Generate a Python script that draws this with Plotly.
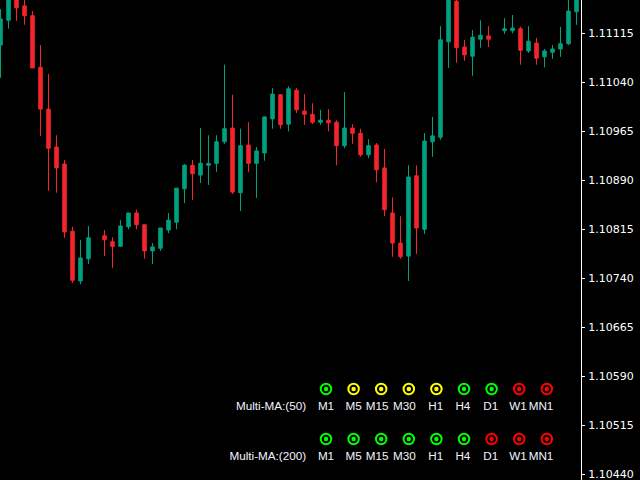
import plotly.graph_objects as go

# Candle slots (gaps at 12 and 62), prices in 1e-5 units
slots = [i for i in range(73) if i not in (12, 62)]
open_pts = [111097,111135,111178,111157,111142,111063,110999,110941,110915,110812,110736,110770,
 110805,110796,110789,110819,110840,110822,110782,110786,110814,110826,110877,110913,110898,110913,110916,110949,
 110970,110871,110944,110916,110932,110984,111021,110976,111028,110996,110991,110979,110982,110979,110943,110970,
 110962,110929,110944,110909,110840,110794,110774,110897,110815,110949,110956,111102,111164,111094,111080,111106,
 111111,111119,111119,111122,111088,111100,111079,111086,111091,111099,111148]
high_pts = [111152,111189,111184,111171,111149,111097,111053,110959,110921,110819,110799,110820,
 110814,110803,110829,110840,110845,110822,110794,110817,110840,110878,110915,110921,110970,110959,110959,111067,
 111021,110969,110979,110941,110988,111031,111022,111034,111031,111022,111008,110998,110999,110982,111025,110976,
 110969,110953,110947,110938,110864,110835,110913,110913,110962,110987,111126,111189,111171,111105,111120,111135,
 111126,111138,111143,111125,111126,111108,111091,111097,111125,111169,111189]
low_pts = [111047,111122,111134,111128,111062,110958,110874,110871,110802,110733,110731,110762,
 110774,110756,110789,110815,110815,110770,110762,110782,110809,110815,110855,110860,110886,110883,110903,110946,
 110869,110843,110903,110863,110920,110969,110969,110965,110993,110975,110976,110975,110965,110913,110939,110946,
 110926,110924,110887,110835,110773,110770,110736,110777,110808,110926,110952,111062,111070,111073,111050,111093,
 111094,111114,111115,111067,111085,111067,111063,111076,111079,111097,111128]
close_pts = [111137,111174,111154,111142,111062,110999,110939,110909,110811,110737,110771,110802,
 110799,110789,110820,110840,110822,110782,110788,110817,110829,110878,110913,110900,110916,110916,110949,110969,
 110872,110943,110916,110935,110987,111022,110975,111030,110998,110991,110979,110982,110978,110943,110970,110962,
 110929,110943,110906,110845,110794,110773,110895,110817,110950,110958,111105,111174,111093,111082,111109,111112,
 111106,111122,111123,111089,111103,111077,111088,111091,111099,111149,111174]

tick_labels = ["1.11115","1.11040","1.10965","1.10890","1.10815","1.10740","1.10665","1.10590","1.10515","1.10440"]

timeframes = ["M1","M5","M15","M30","H1","H4","D1","W1","MN1"]
label_cols = [0, 1, 1.85, 2.84, 3.98, 4.96, 5.97, 6.96, 7.79]
panel_rows = ["Multi-MA:(50)","Multi-MA:(200)"]
status_50 = ["up","flat","flat","flat","flat","up","up","down","down"]
status_200 = ["up","up","up","up","up","up","down","down","down"]

status_colour = {"up":"#00FF00","flat":"#FFFF00","down":"#FF0000"}
GREEN, RED = "#01A17F", "#F5252D"
TEXT = "#F2F4FF"

W, H, R = 640, 480, 59
fig = go.Figure()
fig.add_trace(go.Candlestick(
    x=slots,
    open=[v/1e5 for v in open_pts], high=[v/1e5 for v in high_pts],
    low=[v/1e5 for v in low_pts], close=[v/1e5 for v in close_pts],
    increasing=dict(line=dict(color=GREEN, width=1), fillcolor=GREEN),
    decreasing=dict(line=dict(color=RED, width=1), fillcolor=RED),
    whiskerwidth=0, showlegend=False, hoverinfo="skip",
))

cols = list(range(len(timeframes)))
for r, states in enumerate([status_50, status_200]):
    colours = [status_colour[s] for s in states]
    fig.add_trace(go.Scatter(x=cols, y=[r]*9, mode="markers", xaxis="x2", yaxis="y2",
        marker=dict(symbol="circle-open", size=10.5, color=colours, line=dict(width=2, color=colours)),
        showlegend=False, hoverinfo="skip"))
    fig.add_trace(go.Scatter(x=cols, y=[r]*9, mode="markers", xaxis="x2", yaxis="y2",
        marker=dict(symbol="circle", size=4.5, color=colours, line=dict(width=0)),
        showlegend=False, hoverinfo="skip"))
    fig.add_trace(go.Scatter(x=label_cols, y=[r+0.355]*9, mode="text", text=timeframes, xaxis="x2", yaxis="y2",
        textposition="middle center", textfont=dict(family="Liberation Sans", size=11.7, color=TEXT),
        showlegend=False, hoverinfo="skip"))
    fig.add_trace(go.Scatter(x=[-0.72], y=[r+0.355], mode="text", text=[panel_rows[r]], xaxis="x2", yaxis="y2",
        textposition="middle left", textfont=dict(family="Liberation Sans", size=11.7, color=TEXT),
        showlegend=False, hoverinfo="skip"))

top_p, bottom_p = 111166/1e5, 110431.3/1e5
step = 27.6
fig.update_layout(
    width=W, height=H, margin=dict(l=0, r=R, t=0, b=0), autosize=False,
    paper_bgcolor="#000000", plot_bgcolor="#000000", boxgap=0.375,
    xaxis=dict(domain=[0,1], range=[-0.0625, (W-R-0.5)/8], visible=False, rangeslider=dict(visible=False), fixedrange=True),
    yaxis=dict(side="right", range=[bottom_p, top_p], tickmode="array",
               tickvals=[float(t) for t in tick_labels], ticktext=tick_labels,
               showgrid=False, zeroline=False, showline=True, linecolor="#FFFFFF", linewidth=1,
               ticks="outside", ticklen=3, tickwidth=1, tickcolor="#FFFFFF",
               ticklabeloverflow="allow", ticklabelstandoff=1,
               tickfont=dict(family="DejaVu Sans", size=11, color="#FFFFFF"), fixedrange=True),
    xaxis2=dict(overlaying="x", anchor="y2", range=[-326/step, (W-R-326)/step], visible=False, fixedrange=True),
    yaxis2=dict(overlaying="y", anchor="x2", range=[(480-389)/50, -389/50], visible=False, fixedrange=True),
)
fig.write_html("out.html", config=dict(displayModeBar=False),
               post_script="document.body.style.margin='0';document.body.style.background='#000';")
